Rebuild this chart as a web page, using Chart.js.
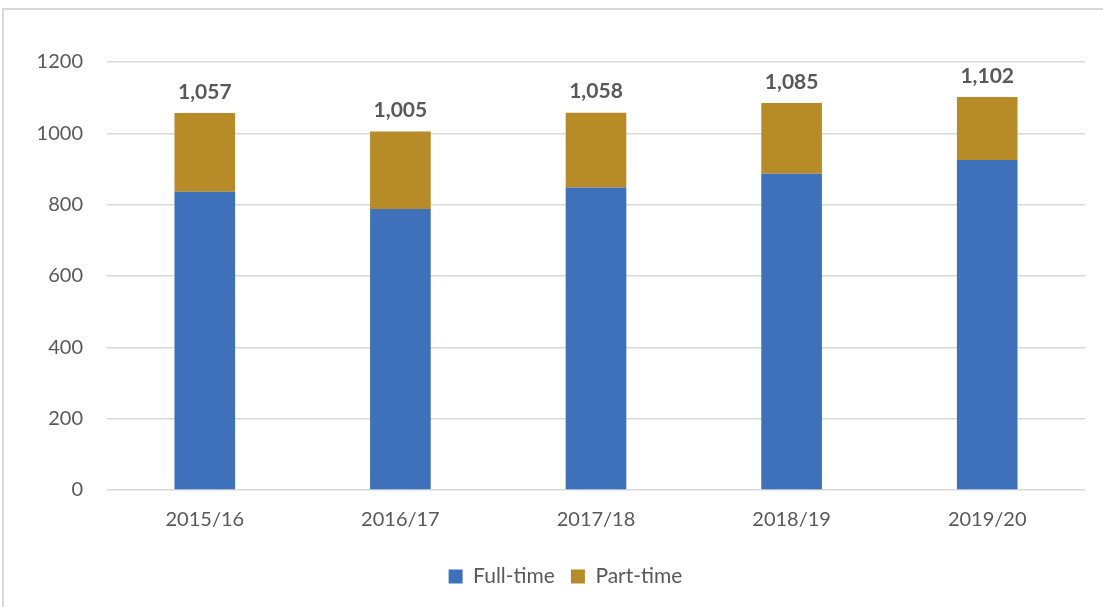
<!DOCTYPE html>
<html>
<head>
<meta charset="utf-8">
<script src="https://cdn.jsdelivr.net/npm/chart.js@4.4.1/dist/chart.umd.min.js"></script>
<style>
    body { margin: 0; background: #fff; overflow: hidden; }
    #frame { position: absolute; left: 2px; top: 8px; width: 1200px; height: 700px; border: 2px solid #d9d9d9; box-sizing: border-box; }
    #chart { position: absolute; left: 0; top: 0; }
</style>
</head>
<body>
<div id="frame"></div>
<canvas id="chart" width="1103" height="607"></canvas>
<script>
// Daten
const years = ["2015/16", "2016/17", "2017/18", "2018/19", "2019/20"];
const fullTime = [836, 788, 848, 887, 925];
const partTime = [221, 217, 210, 198, 177];
const yTicks = [0, 200, 400, 600, 800, 1000, 1200];

const textColor = "#595959";
const fontName = "Lato, 'Open Sans', sans-serif";

// Summen über den Balken anzeigen
const totalLabels = {
    id: "totalLabels",
    afterDatasetsDraw: (chart) => {
        const ctx = chart.ctx;
        const meta = chart.getDatasetMeta(chart.data.datasets.length - 1);
        ctx.save();
        ctx.font = "bold 21px " + fontName;
        ctx.fillStyle = textColor;
        ctx.textAlign = "center";
        ctx.textBaseline = "middle";
        meta.data.forEach((bar, i) => {
            const total = fullTime[i] + partTime[i];
            ctx.fillText(total.toLocaleString("en-US"), bar.x, bar.y - 21);
        });
        ctx.restore();
    }
};

// Legende etwas nach rechts schieben (wie im Original)
const legendShift = {
    id: "legendShift",
    afterLayout: (chart) => {
        if (!chart.legend) return;
        chart.legend.left += 23;
        chart.legend.right += 23;
    }
};

new Chart(document.getElementById("chart"), {
    type: "bar",
    data: {
        labels: years,
        datasets: [
            { label: "Full-time", data: fullTime, backgroundColor: "#3E71B9", barPercentage: 0.31, categoryPercentage: 1 },
            { label: "Part-time", data: partTime, backgroundColor: "#B78B28", barPercentage: 0.31, categoryPercentage: 1 },
        ],
    },
    options: {
        responsive: false,
        animation: false,
        layout: { padding: { top: 62, right: 18, left: 0, bottom: 10 } },
        plugins: {
            tooltip: { enabled: false },
            legend: {
                position: "bottom",
                labels: {
                    color: textColor,
                    font: { family: fontName, size: 21 },
                    boxWidth: 14,
                    boxHeight: 14,
                    padding: 16,
                },
            },
        },
        scales: {
            x: {
                stacked: true,
                grid: { display: false },
                border: { display: false },
                ticks: { color: textColor, font: { family: fontName, size: 20 }, padding: 10 },
                afterFit: (scale) => { scale.height = 60; },
            },
            y: {
                stacked: true,
                min: 0,
                max: 1200,
                afterBuildTicks: (scale) => { scale.ticks = yTicks.map(v => ({ value: v })); },
                grid: { color: "#d9d9d9", lineWidth: 1.5, drawTicks: false },
                border: { display: false },
                ticks: { color: textColor, font: { family: fontName, size: 20 }, padding: 24, callback: (v) => String(v) },
                afterFit: (scale) => { scale.width = 107; },
            },
        },
    },
    plugins: [totalLabels, legendShift],
});
</script>
</body>
</html>
